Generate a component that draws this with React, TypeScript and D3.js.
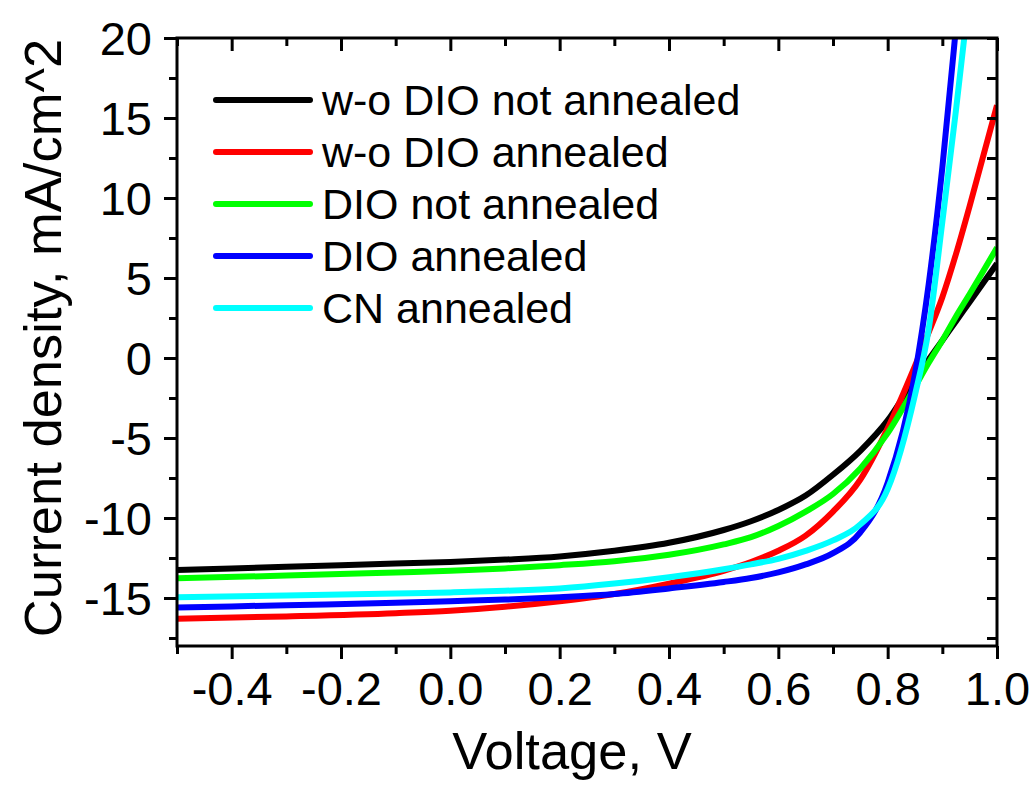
import React, { useEffect, useRef } from 'react';
import * as d3 from 'd3';

// J-V curves, voltage in V, current density in mA/cm^2
const voltage = [-0.5, -0.3, -0.1, 0.0, 0.1, 0.2, 0.3, 0.4, 0.5, 0.55, 0.6, 0.65, 0.7, 0.75, 0.8, 0.85, 0.875, 0.9, 0.925, 0.95, 1.0];

const woDioNotAnnealed = [-13.25, -13.05, -12.85, -12.75, -12.6, -12.4, -12.05, -11.55, -10.75, -10.2, -9.5, -8.6, -7.3, -5.8, -3.9, -1.3, -0.1, 1.1, 2.3, 3.5, 5.9];
const woDioAnnealed = [-16.3, -16.15, -15.95, -15.8, -15.55, -15.2, -14.75, -14.1, -13.3, -12.75, -12.05, -11.1, -9.6, -7.6, -4.4, -0.5, 1.6, 3.8, 6.5, 9.5, 15.8];
const dioNotAnnealed = [-13.77, -13.6, -13.4, -13.3, -13.15, -12.95, -12.7, -12.3, -11.65, -11.2, -10.5, -9.6, -8.5, -6.9, -4.7, -1.8, -0.3, 1.1, 2.6, 4.0, 6.9];
const dioAnnealed = [-15.6, -15.45, -15.3, -15.2, -15.1, -14.95, -14.75, -14.4, -14.0, -13.75, -13.4, -12.9, -12.2, -10.9, -7.8, -1.0, 4.6, 11.9, 20.7, 30, 45];
const cnAnnealed = [-14.96, -14.85, -14.72, -14.65, -14.55, -14.4, -14.1, -13.7, -13.2, -12.9, -12.55, -12.05, -11.4, -10.4, -8.2, -2.3, 1.8, 8.5, 15.5, 23, 38];

const seriesNames = ['w-o DIO not annealed', 'w-o DIO annealed', 'DIO not annealed', 'DIO annealed', 'CN annealed'];
const seriesValues = [woDioNotAnnealed, woDioAnnealed, dioNotAnnealed, dioAnnealed, cnAnnealed];
const seriesColors = ['#000000', '#ff0000', '#00ff00', '#0000ff', '#00ffff'];

const xMajorTicks = [-0.4, -0.2, 0.0, 0.2, 0.4, 0.6, 0.8, 1.0];
const xMinorTicks = [-0.5, -0.3, -0.1, 0.1, 0.3, 0.5, 0.7, 0.9];
const yMajorTicks = [20, 15, 10, 5, 0, -5, -10, -15];
const yMinorTicks = [17.5, 12.5, 7.5, 2.5, -2.5, -7.5, -12.5, -17.5];

const FONT = '"Liberation Sans", Arial, sans-serif';

// plain hyphen instead of the unicode minus d3 uses
const fmtX = d => d3.format('.1f')(d).replace('\u2212', '-');
const fmtY = d => d3.format('d')(d).replace('\u2212', '-');

const App = () => {
  const svgRef = useRef(null);

  useEffect(() => {
    const width = 1035;
    const height = 785;
    const margin = { top: 38, right: 38, bottom: 139, left: 177 };
    const innerWidth = width - margin.left - margin.right;
    const innerHeight = height - margin.top - margin.bottom;

    const root = d3.select(svgRef.current);
    root.selectAll('*').remove();

    const svg = root.append('g')
      .attr('transform', `translate(${margin.left},${margin.top})`);

    const xScale = d3.scaleLinear().domain([-0.5, 1.0]).range([0, innerWidth]);
    const yScale = d3.scaleLinear().domain([-18, 20]).range([innerHeight, 0]);

    // clip for curves
    svg.append('clipPath')
      .attr('id', 'plot-clip')
      .append('rect')
      .attr('width', innerWidth)
      .attr('height', innerHeight);

    const line = d3.line()
      .x(d => xScale(d[0]))
      .y(d => yScale(d[1]))
      .curve(d3.curveMonotoneX);

    const curves = svg.append('g').attr('clip-path', 'url(#plot-clip)');
    seriesValues.forEach((vals, i) => {
      curves.append('path')
        .datum(voltage.map((v, j) => [v, vals[j]]))
        .attr('fill', 'none')
        .attr('stroke', seriesColors[i])
        .attr('stroke-width', 6)
        .attr('stroke-linejoin', 'round')
        .attr('d', line);
    });

    // frame
    svg.append('rect')
      .attr('width', innerWidth)
      .attr('height', innerHeight)
      .attr('fill', 'none')
      .attr('stroke', '#000')
      .attr('stroke-width', 3);

    const majorLen = 13;
    const minorLen = 8;

    // bottom axis, ticks out
    const bottom = svg.append('g')
      .attr('transform', `translate(0,${innerHeight})`)
      .call(d3.axisBottom(xScale).tickValues(xMajorTicks).tickSize(majorLen).tickFormat(fmtX));
    bottom.append('g')
      .call(d3.axisBottom(xScale).tickValues(xMinorTicks).tickSize(minorLen).tickFormat(() => ''));

    // top axis, ticks in
    const top = svg.append('g')
      .call(d3.axisBottom(xScale).tickValues(xMajorTicks).tickSize(majorLen).tickFormat(() => ''));
    top.append('g')
      .call(d3.axisBottom(xScale).tickValues(xMinorTicks).tickSize(minorLen).tickFormat(() => ''));

    // left axis, ticks out
    const left = svg.append('g')
      .call(d3.axisLeft(yScale).tickValues(yMajorTicks).tickSize(majorLen).tickFormat(fmtY));
    left.append('g')
      .call(d3.axisLeft(yScale).tickValues(yMinorTicks).tickSize(minorLen).tickFormat(() => ''));

    // right axis, short ticks in
    const right = svg.append('g')
      .attr('transform', `translate(${innerWidth},0)`)
      .call(d3.axisLeft(yScale).tickValues(yMajorTicks.concat(yMinorTicks)).tickSize(10).tickFormat(() => ''));

    [bottom, top, left, right].forEach(ax => {
      ax.selectAll('.domain').remove();
      ax.selectAll('line').attr('stroke', '#000').attr('stroke-width', 3);
    });

    bottom.selectAll('text')
      .attr('font-family', FONT)
      .attr('font-size', 47)
      .attr('fill', '#000')
      .attr('y', 26)
      .attr('dy', '0.71em');

    left.selectAll('text')
      .attr('font-family', FONT)
      .attr('font-size', 47)
      .attr('fill', '#000')
      .attr('x', -25)
      .attr('dy', '0.35em');

    // axis titles
    svg.append('text')
      .attr('x', innerWidth / 2 - 15)
      .attr('y', innerHeight + 123)
      .attr('text-anchor', 'middle')
      .attr('font-family', FONT)
      .attr('font-size', 52.5)
      .text('Voltage, V');

    svg.append('text')
      .attr('transform', `translate(${-116},${innerHeight / 2 - 4}) rotate(-90)`)
      .attr('text-anchor', 'middle')
      .attr('font-family', FONT)
      .attr('font-size', 52.5)
      .text('Current density, mA/cm^2');

    // legend
    const legend = svg.append('g')
      .selectAll('g')
      .data(seriesNames)
      .enter().append('g')
      .attr('transform', (d, i) => `translate(${39},${62 + i * 52})`);

    legend.append('line')
      .attr('x1', 0)
      .attr('x2', 94)
      .attr('stroke', (d, i) => seriesColors[i])
      .attr('stroke-width', 6)
      .attr('stroke-linecap', 'round');

    legend.append('text')
      .attr('x', 106)
      .attr('dy', '0.35em')
      .attr('font-family', FONT)
      .attr('font-size', 43)
      .attr('fill', '#000')
      .text(d => d);
  }, []);

  return (
    <svg
      ref={svgRef}
      width={1035}
      height={785}
      style={{ position: 'absolute', left: 0, top: 0, background: '#fff' }}
    />
  );
};

export default App;
